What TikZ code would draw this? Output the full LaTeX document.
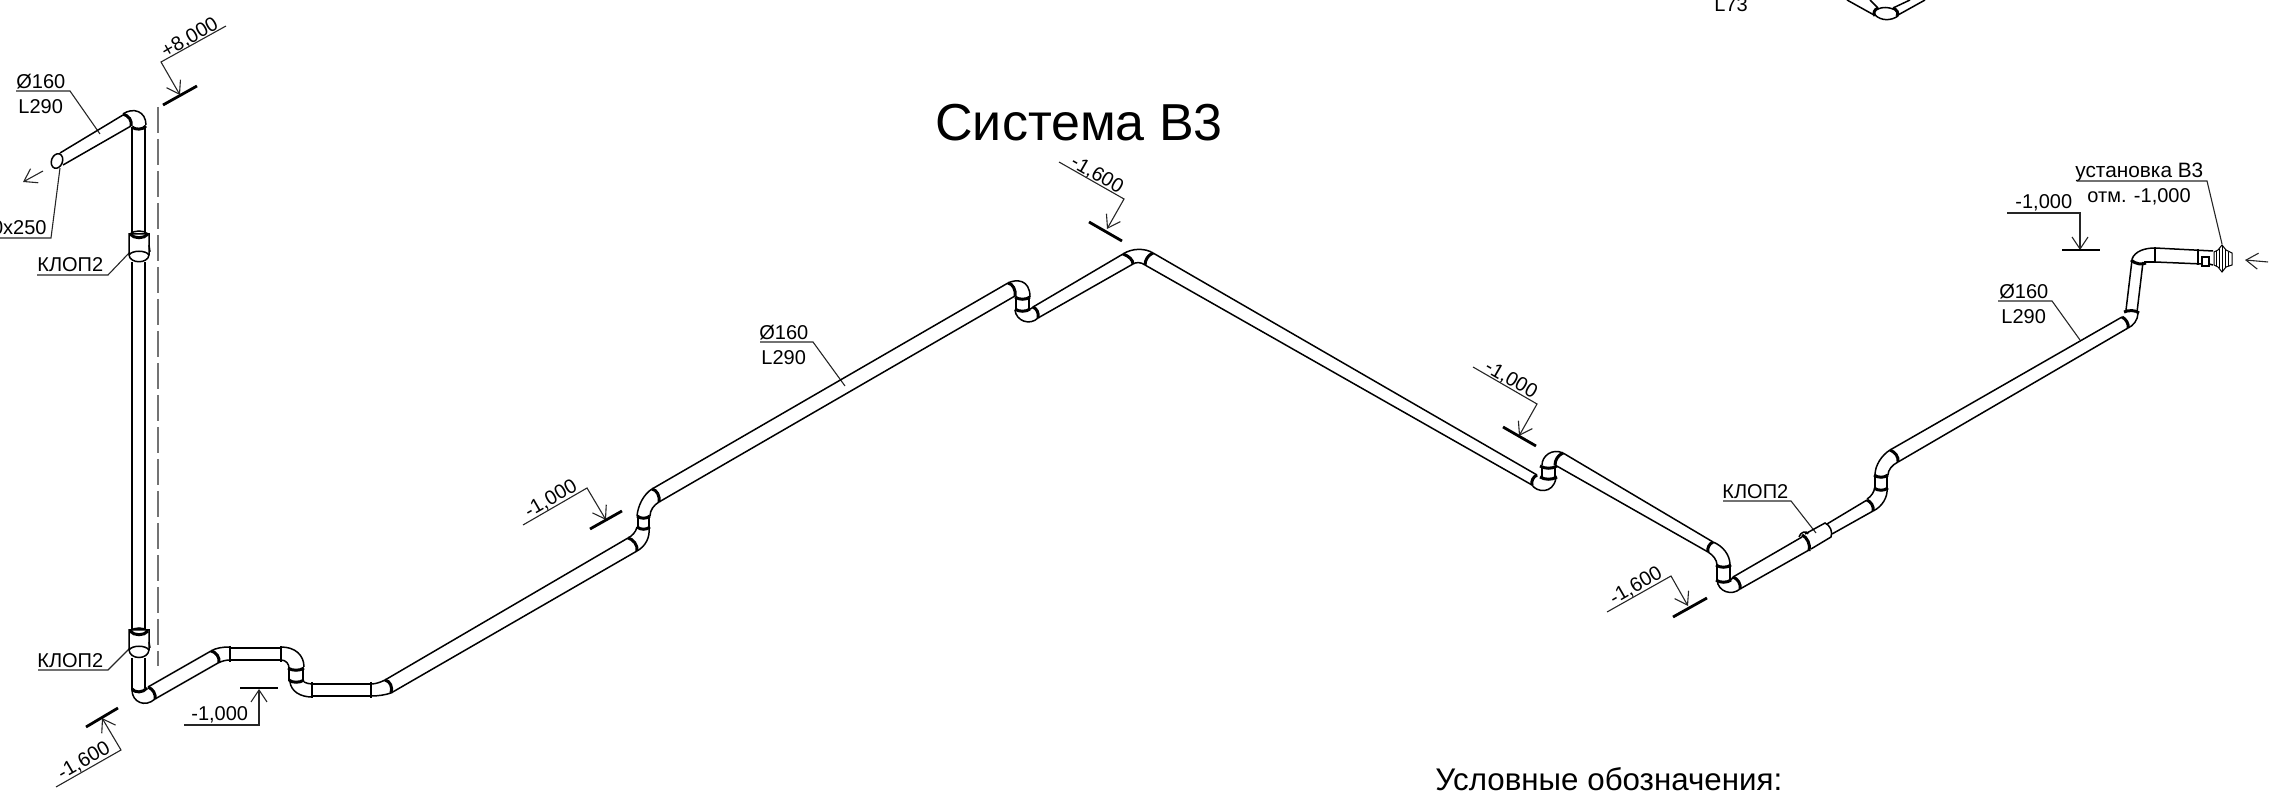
\documentclass[tikz,border=0pt]{standalone}
\usepackage{fontspec}
\setmainfont{Liberation Sans}
\usetikzlibrary{arrows.meta}
\tikzset{
  pipe/.style={line width=.75pt,black},
  band/.style={line width=1.5pt,black},
  lead/.style={line width=.55pt,black!85},
  tickm/.style={line width=1.4pt,black},
  axisl/.style={line width=.6pt,black!55,dash pattern=on 13pt off 3pt},
  barb/.style={lead,-{Straight Barb[length=6pt,width=8pt]}},
  lbl/.style={inner sep=0pt,font=\fontsize{10}{12}\selectfont,text=black},
}
\begin{document}
\begin{tikzpicture}[x=.5pt,y=-.5pt]
\useasboundingbox (0,0) rectangle (2269,795);
\clip (0,0) rectangle (2269,795);
% ---- texts
\node[inner sep=0pt,anchor=base west,font=\fontsize{26}{30}\selectfont] (title) at (935,141) {Система В3};
\node[inner sep=0pt,anchor=base west,font=\fontsize{15.65}{18}\selectfont] (legend) at (1435,790) {Условные обозначения:};
\node[lbl,anchor=base west] (d1) at (16,89) {Ø160};
\node[lbl,anchor=base west] (l1) at (18,114) {L290};
\node[lbl,anchor=base east] (gr) at (47,235) {0x250};
\node[lbl,anchor=base west] (k1) at (37,272) {КЛОП2};
\node[lbl,anchor=base west] (k2) at (37,668) {КЛОП2};
\node[lbl,anchor=base west] (m1) at (191,720) {-1,000};
\node[lbl,anchor=base west] (m2) at (2015,209) {-1,000};
\node[lbl,anchor=base west,font=\fontsize{10.4}{12}\selectfont] (u1) at (2075,178) {установка В3};
\node[lbl,anchor=base west] (u2) at (2087,203) {отм. -1,000};
\node[lbl,anchor=base west] (d3) at (1999,299) {Ø160};
\node[lbl,anchor=base west] (l3) at (2001,324) {L290};
\node[lbl,anchor=base west] (d2) at (759,340) {Ø160};
\node[lbl,anchor=base west] (l2) at (761,365) {L290};
\node[lbl,anchor=base west] (k3) at (1722,499) {КЛОП2};
\node[lbl,anchor=base west] (l4) at (1714,12) {L73};
\node[lbl,rotate=30] (p8) at (190,38) {+8,000};
\node[lbl,rotate=30] (n16a) at (84,761) {-1,600};
\node[lbl,rotate=30] (n10a) at (551,499) {-1,000};
\node[lbl,rotate=-30] (n16b) at (1097,175) {-1,600};
\node[lbl,rotate=-30] (n10b) at (1511,380) {-1,000};
\node[lbl,rotate=30] (n16c) at (1636,586) {-1,600};
% ---- leaders
\draw[lead] (16,91)--(70,91)--(100,134);
\draw[lead] (60,168)--(51,238)--(0,238);
\draw[lead] (37,275)--(108,275)--(130,252);
\draw[lead] (38,670)--(108,670)--(130,648);
\draw[lead] (760,342)--(813,342)--(845,386);
\draw[lead] (1723,501)--(1791,501)--(1816,533);
\draw[lead] (2077,181)--(2207,181)--(2222,244);
\draw[lead] (1998,301)--(2052,301)--(2080,340);
% ---- level marks
\draw[barb] (226,26)--(161,62)--(180,95);
\draw[tickm] (163,105)--(197,86);
\draw[barb] (56,787)--(121,750)--(102,718);
\draw[tickm] (86,727)--(118,708);
\draw[barb] (184,725)--(259,725)--(259,689);
\draw[tickm] (240,688)--(278,688);
\draw[barb] (523,525)--(587,488)--(606,520);
\draw[tickm] (590,529)--(622,511);
\draw[barb] (1059,162)--(1124,199)--(1107,229);
\draw[tickm] (1089,222)--(1122,241);
\draw[barb] (1473,367)--(1537,404)--(1519,436);
\draw[tickm] (1503,427)--(1536,446);
\draw[barb] (1607,612)--(1671,576)--(1688,606);
\draw[tickm] (1673,617)--(1707,598);
\draw[barb] (2007,213)--(2080,213)--(2080,250);
\draw[tickm] (2062,250)--(2100,250);
% ---- flow arrows
\draw[barb] (43,171)--(23,182);
\draw[barb] (2268,262)--(2245,260);
% ---- axis
\draw[axisl] (158,107)--(158,666);
% ---- riser with top outlet
\draw[pipe] (60,153)--(123,115) (63,165)--(131,126);
\draw[pipe,rotate around={-20:(57,161)}] (57,161) ellipse (5.5 and 7.5);
\draw[pipe] (123,114) .. controls (133,107) and (146,111) .. (146,125);
\draw[band] (123,114) .. controls (129,116) and (132,120) .. (131,126);
\draw[band] (132,127) .. controls (135,130) and (143,130) .. (146,126);
\draw[pipe] (132,127)--(132,234) (145,127)--(145,234);
\draw[pipe] (132,262)--(132,629) (145,262)--(145,629);
% upper coupling
\draw[pipe,fill=white] (129,234)--(129,255) .. controls (130,264) and (148,264) .. (149,255)--(149,234)--cycle;
\draw[pipe] (129,255) .. controls (132,250) and (146,250) .. (149,255);
\draw[band] (130,234) .. controls (134,239) and (144,239) .. (148,234);
\draw[pipe] (130,234) .. controls (134,230) and (144,230) .. (148,234);
\draw[pipe] (149,245)--(150,252);
% lower coupling
\draw[pipe,fill=white] (129,630)--(129,650) .. controls (130,660) and (148,660) .. (149,650)--(149,630)--cycle;
\draw[pipe] (129,650) .. controls (132,645) and (146,645) .. (149,650);
\draw[band] (130,631) .. controls (134,636) and (144,636) .. (148,631);
\draw[pipe] (130,631) .. controls (134,627) and (144,627) .. (148,631);
\draw[pipe] (149,642)--(150,648);
\draw[pipe] (132,658)--(132,690) (145,658)--(145,688);
% bottom elbow
\draw[band] (132,689) .. controls (135,693) and (143,693) .. (147,688);
\draw[band] (148,687) .. controls (153,689) and (156,694) .. (155,699);
\draw[pipe] (132,690) .. controls (132,702) and (145,708) .. (155,699);
% rising section
\draw[pipe] (148,687)--(211,651) (155,699)--(218,663);
\draw[band] (211,651) .. controls (216,652) and (220,657) .. (219,663);
\draw[pipe] (211,651) .. controls (216,648) and (222,647) .. (230,647);
\draw[pipe] (218,663) .. controls (222,661) and (226,660) .. (230,660);
\draw[pipe] (230,648)--(281,648) (230,660)--(281,660);
\draw[band,line width=1.1pt] (230,646)--(230,662) (281,646)--(281,662);
\draw[pipe] (281,647) .. controls (295,647) and (304,655) .. (304,667);
\draw[pipe] (281,660) .. controls (286,660) and (289,664) .. (289,668);
\draw[band] (288,668) .. controls (292,671) and (300,671) .. (304,668);
\draw[pipe] (289,668)--(289,681) (303,668)--(303,681);
\draw[band] (289,680) .. controls (292,683) and (300,683) .. (304,680);
\draw[pipe] (290,682) .. controls (291,691) and (300,697) .. (312,697);
\draw[pipe] (304,682) .. controls (306,683) and (309,684) .. (312,684);
\draw[pipe] (312,684)--(371,684) (312,696)--(371,696);
\draw[band,line width=1.1pt] (312,682)--(312,698) (371,682)--(371,698);
\draw[pipe] (371,696) .. controls (378,696) and (385,695) .. (391,693);
\draw[pipe] (371,684) .. controls (376,684) and (381,682) .. (385,680);
\draw[band] (385,680) .. controls (390,681) and (393,687) .. (391,693);
% long rise 1
\draw[pipe] (385,680)--(628,538) (391,693)--(637,551);
\draw[band] (628,538) .. controls (633,539) and (638,545) .. (637,551);
\draw[pipe] (637,551) .. controls (646,546) and (650,537) .. (649,528);
\draw[pipe] (628,538) .. controls (632,536) and (636,532) .. (637,527);
\draw[band] (637,527) .. controls (641,530) and (646,530) .. (650,527);
\draw[pipe] (638,516)--(638,527) (649,516)--(649,527);
\draw[band] (637,516) .. controls (641,519) and (646,519) .. (650,516);
\draw[pipe] (637,516) .. controls (638,505) and (644,494) .. (652,489);
\draw[pipe] (650,516) .. controls (650,510) and (654,505) .. (659,502);
\draw[band] (652,489) .. controls (657,490) and (660,496) .. (659,502);
% long rise 2
\draw[pipe] (652,489)--(1008,283) (659,502)--(1015,296);
\draw[band] (1008,283) .. controls (1013,284) and (1016,290) .. (1015,296);
\draw[pipe] (1008,283) .. controls (1016,279) and (1030,279) .. (1030,297);
\draw[band] (1015,297) .. controls (1019,300) and (1026,300) .. (1030,297);
\draw[pipe] (1016,297)--(1016,309) (1029,297)--(1029,309);
\draw[band] (1015,309) .. controls (1019,312) and (1026,312) .. (1030,309);
\draw[pipe] (1015,310) .. controls (1016,321) and (1030,326) .. (1038,318);
\draw[pipe] (1030,309) .. controls (1031,309) and (1032,308) .. (1033,307);
\draw[band] (1033,307) .. controls (1037,309) and (1039,313) .. (1038,318);
% rise 3
\draw[pipe] (1033,307)--(1123,254) (1038,318)--(1133,264);
\draw[band] (1123,254) .. controls (1129,256) and (1133,260) .. (1133,264);
\draw[pipe] (1123,254) .. controls (1132,248) and (1145,248) .. (1153,253);
\draw[pipe] (1133,264) .. controls (1136,262) and (1141,262) .. (1145,265);
\draw[band] (1153,253) .. controls (1148,255) and (1145,260) .. (1145,265);
% long fall
\draw[pipe] (1153,253)--(1537,475) (1145,265)--(1532,485);
\draw[band] (1537,475) .. controls (1533,477) and (1531,481) .. (1532,485);
\draw[pipe] (1532,485) .. controls (1536,492) and (1553,495) .. (1556,478);
\draw[band] (1540,477) .. controls (1545,480) and (1552,480) .. (1557,477);
\draw[pipe] (1542,466)--(1542,477) (1555,466)--(1555,477);
\draw[band] (1540,466) .. controls (1545,469) and (1552,469) .. (1557,466);
\draw[pipe] (1542,465) .. controls (1542,456) and (1552,448) .. (1563,453);
\draw[band] (1563,453) .. controls (1558,455) and (1555,460) .. (1555,465);
% fall 2
\draw[pipe] (1563,453)--(1713,542) (1555,465)--(1708,552);
\draw[band] (1713,542) .. controls (1709,544) and (1707,548) .. (1708,552);
\draw[pipe] (1713,542) .. controls (1723,546) and (1730,555) .. (1730,565);
\draw[pipe] (1708,552) .. controls (1713,555) and (1717,560) .. (1717,565);
\draw[band] (1716,565) .. controls (1720,568) and (1727,568) .. (1731,565);
\draw[pipe] (1717,565)--(1717,580) (1730,565)--(1730,580);
\draw[band] (1716,580) .. controls (1720,583) and (1727,583) .. (1731,580);
\draw[pipe] (1717,580) .. controls (1718,592) and (1732,596) .. (1740,589);
\draw[pipe] (1731,580) .. controls (1732,579) and (1732,578) .. (1733,577);
\draw[band] (1733,577) .. controls (1738,579) and (1741,584) .. (1740,589);
% section with coupling
\draw[pipe] (1733,577)--(1802,537) (1740,589)--(1809,550);
\draw[band] (1802,535) .. controls (1807,537) and (1811,545) .. (1809,551);
\draw[pipe] (1805,534)--(1825,523) .. controls (1830,525) and (1833,532) .. (1831,537)--(1811,549);
\draw[pipe] (1799,537) .. controls (1800,532) and (1807,530) .. (1808,534);
\draw[pipe] (1827,524)--(1867,500) (1832,534)--(1873,511);
\draw[band] (1867,500) .. controls (1871,502) and (1874,506) .. (1873,511);
\draw[pipe] (1873,511) .. controls (1882,507) and (1888,497) .. (1887,488);
\draw[pipe] (1867,499) .. controls (1871,497) and (1875,491) .. (1875,486);
\draw[band] (1874,488) .. controls (1878,491) and (1884,491) .. (1888,488);
\draw[pipe] (1875,475)--(1875,488) (1887,475)--(1887,488);
\draw[band] (1874,475) .. controls (1878,478) and (1884,478) .. (1888,475);
\draw[pipe] (1875,475) .. controls (1875,465) and (1882,455) .. (1890,450);
\draw[pipe] (1888,475) .. controls (1888,470) and (1892,465) .. (1898,462);
\draw[band] (1890,450) .. controls (1895,452) and (1899,457) .. (1898,462);
% last rise
\draw[pipe] (1890,450)--(2122,317) (1898,462)--(2128,328);
\draw[band] (2122,317) .. controls (2126,319) and (2129,324) .. (2128,328);
\draw[pipe] (2128,328) .. controls (2133,326) and (2138,320) .. (2138,313);
\draw[band] (2124,312) .. controls (2128,310) and (2136,310) .. (2139,313);
\draw[pipe] (2126,310)--(2132,260) (2137,312)--(2143,262);
\draw[band] (2131,260) .. controls (2135,264) and (2142,265) .. (2146,263);
\draw[pipe] (2132,259) .. controls (2135,251) and (2145,248) .. (2155,248);
\draw[pipe] (2144,262) .. controls (2147,262) and (2151,262) .. (2155,262);
\draw[band,line width=1.1pt] (2155,247)--(2155,263);
\draw[pipe] (2155,248)--(2213,251) (2155,262)--(2202,264) (2209,264)--(2213,265);
\draw[band,line width=1.1pt] (2198,249)--(2198,265);
\draw[pipe] (2202,257) rectangle (2209,266);
% fan
\draw[pipe,line width=.5pt,fill=white] (2214,252)--(2218,250)--(2222,245)--(2226,250)--(2232,253)--(2232,265)--(2226,267)--(2222,272)--(2218,267)--(2214,265)--cycle;
\draw[line width=.35pt] (2216,251)--(2216,266) (2219,249)--(2219,268) (2222,245)--(2222,272) (2225,249)--(2225,268) (2228,252)--(2228,266);
% ---- fragment of the system above
\draw[pipe] (1847,0)--(1874,15) (1870,0)--(1878,8);
\draw[pipe] (1898,15)--(1925,0) (1893,8)--(1910,0);
\draw[band] (1878,8) .. controls (1874,10) and (1873,13) .. (1875,16);
\draw[band] (1893,8) .. controls (1897,10) and (1899,13) .. (1897,16);
\draw[pipe] (1875,15) .. controls (1881,21) and (1891,21) .. (1898,16);
\draw[pipe] (1878,9) .. controls (1882,7) and (1888,7) .. (1893,9);
\end{tikzpicture}
\end{document}
